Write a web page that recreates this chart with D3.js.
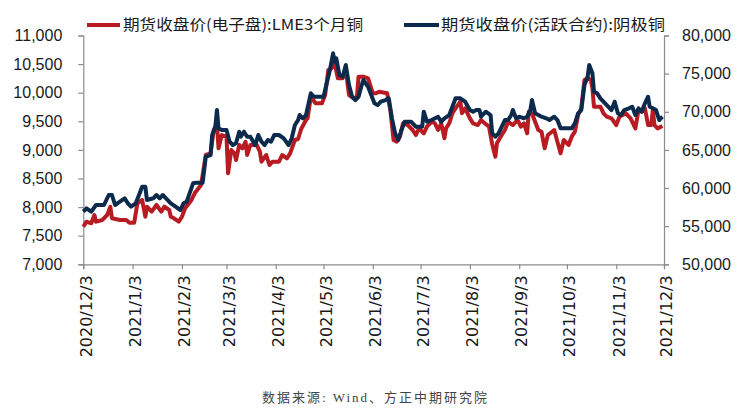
<!DOCTYPE html>
<html><head><meta charset="utf-8">
<script src="https://cdn.jsdelivr.net/npm/d3@7"></script>
<style>
html,body{margin:0;padding:0;background:#fff;}
svg{display:block;}
</style></head>
<body>
<svg id="chart" width="744" height="412"></svg>
<script>
// ---- Data ----
const seriesNames = ["期货收盘价(电子盘):LME3个月铜", "期货收盘价(活跃合约):阴极铜"];
const xTickDates = ["2020-12-03","2021-01-03","2021-02-03","2021-03-03","2021-04-03","2021-05-03","2021-06-03","2021-07-03","2021-08-03","2021-09-03","2021-10-03","2021-11-03","2021-12-03"];
const leftTicks = [7000,7500,8000,8500,9000,9500,10000,10500,11000];
const rightTicks = [50000,55000,60000,65000,70000,75000,80000];

const lmeDates = ["2020-12-03","2020-12-05","2020-12-08","2020-12-10","2020-12-11","2020-12-15","2020-12-18","2020-12-20","2020-12-21","2020-12-26","2020-12-30","2021-01-01","2021-01-04","2021-01-06","2021-01-09","2021-01-11","2021-01-12","2021-01-15","2021-01-18","2021-01-21","2021-01-23","2021-01-26","2021-01-27","2021-01-29","2021-02-01","2021-02-03","2021-02-05","2021-02-09","2021-02-11","2021-02-15","2021-02-18","2021-02-21","2021-02-23","2021-02-25","2021-02-26","2021-02-28","2021-03-03","2021-03-04","2021-03-06","2021-03-08","2021-03-09","2021-03-11","2021-03-13","2021-03-15","2021-03-16","2021-03-18","2021-03-22","2021-03-24","2021-03-25","2021-03-28","2021-03-30","2021-04-01","2021-04-05","2021-04-07","2021-04-10","2021-04-12","2021-04-15","2021-04-17","2021-04-19","2021-04-22","2021-04-23","2021-04-25","2021-04-28","2021-05-02","2021-05-04","2021-05-06","2021-05-08","2021-05-10","2021-05-12","2021-05-15","2021-05-17","2021-05-19","2021-05-22","2021-05-24","2021-05-25","2021-05-28","2021-05-31","2021-06-03","2021-06-05","2021-06-07","2021-06-12","2021-06-14","2021-06-16","2021-06-18","2021-06-20","2021-06-22","2021-06-25","2021-06-28","2021-06-30","2021-07-02","2021-07-05","2021-07-07","2021-07-10","2021-07-12","2021-07-14","2021-07-16","2021-07-18","2021-07-19","2021-07-21","2021-07-23","2021-07-25","2021-07-28","2021-07-29","2021-07-31","2021-08-03","2021-08-05","2021-08-08","2021-08-10","2021-08-13","2021-08-15","2021-08-17","2021-08-19","2021-08-20","2021-08-23","2021-08-25","2021-08-27","2021-08-30","2021-09-02","2021-09-04","2021-09-06","2021-09-08","2021-09-09","2021-09-11","2021-09-13","2021-09-15","2021-09-17","2021-09-18","2021-09-19","2021-09-21","2021-09-25","2021-09-27","2021-09-29","2021-10-01","2021-10-04","2021-10-06","2021-10-08","2021-10-10","2021-10-12","2021-10-14","2021-10-16","2021-10-18","2021-10-19","2021-10-20","2021-10-24","2021-10-26","2021-10-28","2021-10-31","2021-11-03","2021-11-05","2021-11-07","2021-11-09","2021-11-12","2021-11-15","2021-11-17","2021-11-19","2021-11-21","2021-11-23","2021-11-25","2021-11-26","2021-11-27","2021-11-29","2021-12-02"];
const lmeValues = [7657,7745,7717,7862,7745,7775,7862,8007,7804,7775,7775,7727,7727,8065,8124,7832,8007,7920,8037,7920,8007,7949,7832,7804,7745,7832,7979,8124,8241,8386,8911,8940,9348,9465,9028,9260,9231,8591,8998,8940,8823,9086,9028,9143,8911,9086,9086,8969,8794,8911,8736,8794,8794,8911,8853,8940,9173,9190,9370,9523,9552,9930,9815,9815,9960,10397,10427,10514,10252,10252,10397,9960,9902,9930,10280,10280,10252,9990,9990,10018,9990,9697,9173,9143,9231,9465,9435,9348,9260,9377,9290,9406,9493,9465,9348,9465,9203,9377,9465,9640,9727,9843,9640,9727,9552,9465,9435,9523,9450,9406,9100,8882,9115,9260,9348,9493,9435,9523,9406,9465,9290,9668,9640,9493,9348,9319,9173,9028,9260,9348,9143,8940,9173,9086,9231,9319,9610,9727,10222,10252,10222,10077,9755,9755,9640,9580,9552,9435,9580,9610,9640,9552,9377,9697,9668,9727,9435,9435,9697,9435,9377,9418];

const shfeDates = ["2020-12-03","2020-12-05","2020-12-08","2020-12-11","2020-12-16","2020-12-19","2020-12-21","2020-12-23","2020-12-26","2020-12-29","2020-12-31","2021-01-02","2021-01-05","2021-01-09","2021-01-11","2021-01-12","2021-01-16","2021-01-18","2021-01-20","2021-01-22","2021-01-24","2021-01-27","2021-01-30","2021-02-02","2021-02-04","2021-02-06","2021-02-10","2021-02-12","2021-02-16","2021-02-18","2021-02-21","2021-02-22","2021-02-24","2021-02-25","2021-02-26","2021-02-28","2021-03-03","2021-03-05","2021-03-07","2021-03-09","2021-03-11","2021-03-12","2021-03-14","2021-03-16","2021-03-18","2021-03-21","2021-03-23","2021-03-25","2021-03-27","2021-03-29","2021-03-31","2021-04-02","2021-04-05","2021-04-08","2021-04-11","2021-04-13","2021-04-15","2021-04-17","2021-04-18","2021-04-20","2021-04-22","2021-04-25","2021-04-27","2021-05-03","2021-05-05","2021-05-07","2021-05-09","2021-05-10","2021-05-11","2021-05-13","2021-05-15","2021-05-17","2021-05-19","2021-05-21","2021-05-23","2021-05-25","2021-05-27","2021-05-28","2021-05-31","2021-06-04","2021-06-06","2021-06-08","2021-06-11","2021-06-13","2021-06-15","2021-06-17","2021-06-19","2021-06-21","2021-06-23","2021-06-27","2021-06-30","2021-07-04","2021-07-05","2021-07-07","2021-07-10","2021-07-14","2021-07-16","2021-07-18","2021-07-21","2021-07-23","2021-07-25","2021-07-28","2021-07-31","2021-08-03","2021-08-05","2021-08-07","2021-08-09","2021-08-10","2021-08-13","2021-08-16","2021-08-17","2021-08-19","2021-08-21","2021-08-25","2021-08-27","2021-08-29","2021-08-30","2021-09-01","2021-09-03","2021-09-06","2021-09-08","2021-09-10","2021-09-11","2021-09-13","2021-09-15","2021-09-17","2021-09-20","2021-09-22","2021-09-25","2021-09-27","2021-09-29","2021-10-02","2021-10-06","2021-10-08","2021-10-10","2021-10-12","2021-10-14","2021-10-16","2021-10-17","2021-10-19","2021-10-20","2021-10-22","2021-10-24","2021-10-28","2021-10-31","2021-11-02","2021-11-04","2021-11-06","2021-11-08","2021-11-11","2021-11-13","2021-11-15","2021-11-17","2021-11-19","2021-11-21","2021-11-23","2021-11-24","2021-11-26","2021-11-28","2021-11-30","2021-12-02"];
const shfeValues = [56896,57342,56896,57774,57774,59085,59085,57774,58207,58653,58000,57551,58000,60173,60173,58430,58653,59085,58653,59085,58653,58000,57551,57118,58000,58207,60619,60700,60700,64106,64329,66951,68039,70229,67830,67607,67607,66073,65637,65860,67384,66728,67384,66728,66728,65637,66951,66073,65637,66296,66073,66951,66951,66519,65637,66519,68262,68900,69573,69140,69573,72418,71970,71970,73729,75473,77662,76561,77007,74817,74600,76128,73506,71970,71540,71970,73506,74162,73284,71107,70885,71317,71540,71763,69140,67174,66296,67607,68695,68695,68039,68039,70006,68695,68918,69350,68695,69140,69573,70661,71763,71763,71317,70229,70006,70229,70229,69350,70006,69573,67174,66733,67174,68918,68918,69573,70229,69140,69350,69140,69350,70229,71540,69800,69573,69350,69140,68918,69350,68918,67830,67830,67830,68486,69800,70229,73506,74600,76128,75040,72627,72418,71763,70885,70229,71317,69800,69573,70229,70450,70661,69573,70450,70006,71107,71970,70661,70450,70229,68918,69350];

const sourceText = "数据来源: Wind、方正中期研究院";

// ---- Layout ----
const parse = d3.timeParse("%Y-%m-%d");
const svg = d3.select("#chart");
const plot = {left: 83.3, right: 664, top: 35.5, bottom: 264.3};

const x = d3.scaleTime().domain([parse("2020-12-03"), parse("2021-12-03")]).range([plot.left, plot.right]);
const yL = d3.scaleLinear().domain([7000, 11000]).range([plot.bottom, plot.top]);
const yR = d3.scaleLinear().domain([50000, 80000]).range([plot.bottom, plot.top]);

const axisColor = "#8c8c8c";
const redColor = "#b81c22";
const navyColor = "#0c2a4c";

// left axis
const gL = svg.append("g").attr("transform", `translate(${plot.left},0)`)
  .call(d3.axisLeft(yL).tickValues(leftTicks).tickFormat(d3.format(",")).tickSizeOuter(0).tickSize(5).tickPadding(16));
// right axis
const gR = svg.append("g").attr("transform", `translate(${plot.right},0)`)
  .call(d3.axisRight(yR).tickValues(rightTicks).tickFormat(d3.format(",")).tickSizeOuter(0).tickSize(5).tickPadding(13));
// bottom axis
const gB = svg.append("g").attr("transform", `translate(0,${plot.bottom})`)
  .call(d3.axisBottom(x).tickValues(xTickDates.map(parse)).tickFormat(d3.timeFormat("%Y/%-m/%-d")).tickSizeOuter(0).tickSize(5));

[gL, gR, gB].forEach(g => {
  g.select(".domain").attr("stroke", axisColor).attr("stroke-width", 1.2);
  g.selectAll(".tick line").attr("stroke", axisColor).attr("stroke-width", 1.2);
});
[gL, gR].forEach(g => g.selectAll(".tick text")
  .attr("font-family", "'Liberation Sans', Arial, sans-serif").attr("font-size", 16).attr("fill", "#1a1a1a"));
gB.selectAll(".tick text")
  .attr("font-family", "'DejaVu Sans', sans-serif").attr("font-size", 16).attr("fill", "#1a1a1a")
  .attr("text-anchor", "end").attr("transform", "rotate(-90)")
  .attr("x", -11).attr("y", 2).attr("dy", "0.36em");

// lines
const lineL = d3.line().x((d, i) => x(parse(lmeDates[i]))).y(d => yL(d)).curve(d3.curveLinear);
const lineR = d3.line().x((d, i) => x(parse(shfeDates[i]))).y(d => yR(d)).curve(d3.curveLinear);

svg.append("path").datum(lmeValues).attr("d", lineL)
  .attr("fill", "none").attr("stroke", redColor).attr("stroke-width", 4).attr("stroke-linejoin", "round");
svg.append("path").datum(shfeValues).attr("d", lineR)
  .attr("fill", "none").attr("stroke", navyColor).attr("stroke-width", 4).attr("stroke-linejoin", "round");

// legend
const legend = [
  {name: seriesNames[0], color: redColor, x1: 87, x2: 120, tx: 123, len: 240},
  {name: seriesNames[1], color: navyColor, x1: 404, x2: 439, tx: 441, len: 224}
];
legend.forEach(l => {
  svg.append("line").attr("x1", l.x1).attr("x2", l.x2).attr("y1", 25).attr("y2", 25)
    .attr("stroke", l.color).attr("stroke-width", 4);
  svg.append("text").attr("x", l.tx).attr("y", 25).attr("dy", "0.36em")
    .attr("font-family", "'Noto Sans CJK SC', sans-serif").attr("font-size", 15).attr("fill", "#1a1a1a")
    .attr("textLength", l.len).attr("lengthAdjust", "spacingAndGlyphs")
    .text(l.name);
});

// source
svg.append("text").attr("x", 262).attr("y", 397).attr("dy", "0.36em")
  .attr("font-family", "'Liberation Serif', 'Noto Sans CJK SC', serif").attr("font-size", 13).attr("fill", "#444")
  .attr("textLength", 225).attr("lengthAdjust", "spacing")
  .text(sourceText);
</script>
</body></html>
